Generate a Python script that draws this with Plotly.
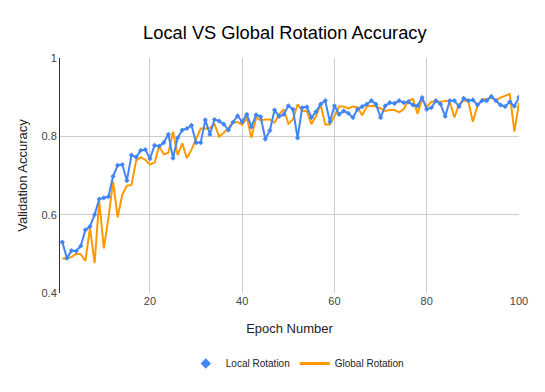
import plotly.graph_objects as go

epochs = list(range(1, 101))

# validation accuracy per epoch
local_rotation = [
    0.530, 0.489, 0.508, 0.507, 0.520, 0.561, 0.570, 0.600, 0.640, 0.643,
    0.646, 0.698, 0.726, 0.728, 0.687, 0.752, 0.747, 0.764, 0.766, 0.743,
    0.777, 0.775, 0.784, 0.805, 0.744, 0.796, 0.816, 0.820, 0.828, 0.784,
    0.784, 0.842, 0.805, 0.843, 0.839, 0.831, 0.816, 0.836, 0.852, 0.837,
    0.856, 0.824, 0.855, 0.850, 0.793, 0.815, 0.867, 0.851, 0.856, 0.878,
    0.869, 0.796, 0.873, 0.875, 0.848, 0.863, 0.882, 0.891, 0.837, 0.878,
    0.856, 0.865, 0.859, 0.848, 0.869, 0.876, 0.882, 0.891, 0.882, 0.848,
    0.878, 0.886, 0.884, 0.891, 0.886, 0.888, 0.880, 0.878, 0.899, 0.869,
    0.873, 0.891, 0.882, 0.851, 0.891, 0.891, 0.876, 0.897, 0.891, 0.893,
    0.880, 0.891, 0.891, 0.902, 0.891, 0.880, 0.876, 0.888, 0.877, 0.900,
]
global_rotation = [
    0.488, 0.488, 0.492, 0.500, 0.499, 0.482, 0.566, 0.476, 0.636, 0.514,
    0.591, 0.685, 0.593, 0.651, 0.674, 0.676, 0.738, 0.747, 0.740, 0.728,
    0.733, 0.775, 0.754, 0.758, 0.812, 0.752, 0.782, 0.744, 0.766, 0.792,
    0.820, 0.820, 0.821, 0.831, 0.799, 0.809, 0.821, 0.836, 0.836, 0.830,
    0.848, 0.796, 0.848, 0.841, 0.843, 0.843, 0.835, 0.856, 0.869, 0.832,
    0.843, 0.882, 0.865, 0.865, 0.831, 0.852, 0.881, 0.830, 0.830, 0.852,
    0.876, 0.876, 0.871, 0.876, 0.874, 0.854, 0.876, 0.878, 0.876, 0.871,
    0.865, 0.867, 0.867, 0.861, 0.869, 0.891, 0.895, 0.858, 0.895, 0.875,
    0.888, 0.888, 0.888, 0.891, 0.888, 0.848, 0.882, 0.891, 0.891, 0.837,
    0.878, 0.895, 0.895, 0.899, 0.893, 0.899, 0.903, 0.908, 0.812, 0.886,
]

y_ticks = [0.4, 0.6, 0.8, 1.0]
y_labels = ["0.4", "0.6", "0.8", "1"]
x_ticks = [20, 40, 60, 80, 100]

BLUE = "#4285F4"
ORANGE = "#FF9900"

fig = go.Figure()

# orange drawn first so blue sits on top
fig.add_trace(go.Scatter(x=epochs, y=global_rotation, mode="lines",
                         line=dict(color=ORANGE, width=2),
                         name="Global Rotation", showlegend=False,
                         legendgroup="g"))
fig.add_trace(go.Scatter(x=epochs, y=local_rotation, mode="lines+markers",
                         line=dict(color=BLUE, width=2),
                         marker=dict(symbol="diamond", size=4, color=BLUE),
                         name="Local Rotation", showlegend=False,
                         legendgroup="l"))

# legend-only entries (marker for local, bar for global)
fig.add_trace(go.Scatter(x=[None], y=[None], mode="markers",
                         marker=dict(symbol="diamond", size=8, color=BLUE),
                         name="Local Rotation", legendgroup="l"))
fig.add_trace(go.Scatter(x=[None], y=[None], mode="lines",
                         line=dict(color=ORANGE, width=3),
                         name="Global Rotation", legendgroup="g"))

fig.update_layout(
    width=545,
    height=392,
    margin=dict(l=52, r=34, t=50, b=107, autoexpand=False),
    paper_bgcolor="white",
    plot_bgcolor="white",
    font=dict(family="Liberation Sans, Arial, sans-serif", color="#222222",
              size=11),
    title=dict(text="Local VS Global Rotation Accuracy",
               x=0.508, xanchor="center", y=0.936, yanchor="middle",
               font=dict(size=18.3, color="#000000")),
    showlegend=True,
    legend=dict(orientation="h", x=0.517, xanchor="center",
                y=-0.30, yanchor="middle",
                font=dict(size=10, color="#222222"),
                itemwidth=30, tracegroupgap=0),
)

fig.update_xaxes(
    range=[0.5, 100],
    tickvals=x_ticks,
    showgrid=True, gridcolor="#cccccc", gridwidth=1,
    zeroline=False, showline=False, ticks="", automargin=False,
    tickfont=dict(size=11, color="#444444"),
    title=dict(text="Epoch Number", font=dict(size=13, color="#222222"),
               standoff=17),
)
fig.update_yaxes(
    range=[0.4, 1.0],
    tickvals=y_ticks, ticktext=y_labels,
    showgrid=True, gridcolor="#cccccc", gridwidth=1,
    zeroline=False, showline=True, linecolor="#333333", linewidth=1,
    ticks="", ticklen=0, automargin=False,
    tickfont=dict(size=11, color="#444444"),
    title=dict(text="Validation Accuracy", font=dict(size=13, color="#222222"),
               standoff=10),
)

fig.write_html("out.html")
